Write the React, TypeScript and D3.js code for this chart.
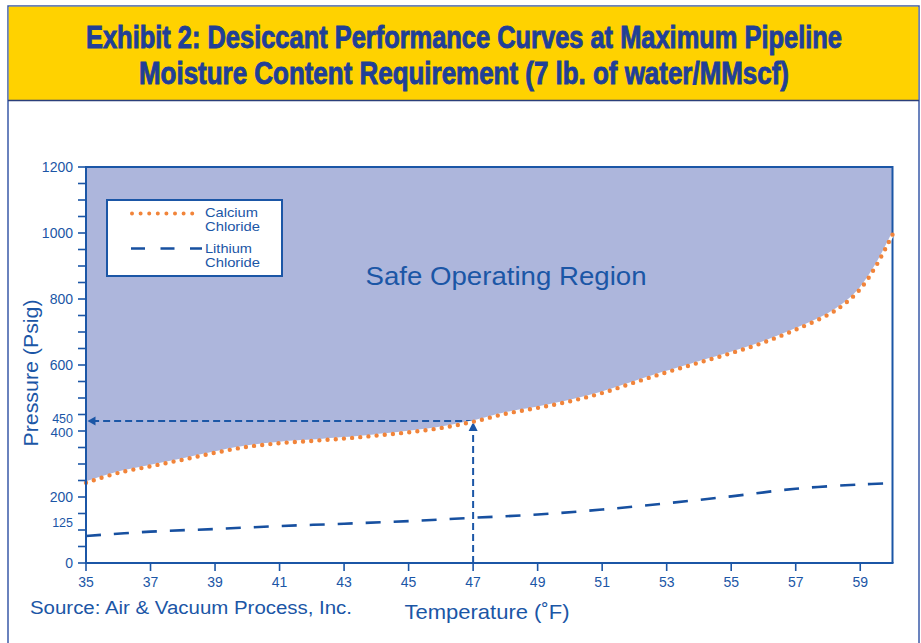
import React from "react";
import * as d3 from "d3";

// ---- data ----
const calciumTemp = [35, 36, 37, 38, 39, 40, 41, 42, 43, 44, 45, 46, 47, 48, 49, 50, 51, 52, 53, 54, 55, 56, 57, 58, 58.5, 59, 59.5, 60];
const calciumPressure = [243, 273, 293, 313, 334, 352, 363, 370, 377, 386, 396, 409, 428, 452, 470, 490, 515, 547, 578, 607, 636, 668, 707, 752, 784, 830, 902, 995];
const lithiumTemp = [35, 37, 39, 41, 43, 45, 47, 49, 51, 53, 55, 57, 59, 60];
const lithiumPressure = [82, 95, 103, 112, 119, 127, 137, 147, 162, 181, 202, 225, 238, 242];
const xTicks = [35, 37, 39, 41, 43, 45, 47, 49, 51, 53, 55, 57, 59];
const yTickLabels = [0, 125, 200, 400, 450, 600, 800, 1000, 1200];
const yMinorTicks = d3.range(0, 1201, 50);
const annotationTemp = 47;
const annotationPressure = 430;

const BLUE = "#1b56a6";
const FONT = "'Liberation Sans', Arial, Helvetica, sans-serif";

export default function App() {
  const x = d3.scaleLinear().domain([35, 60]).range([86, 892.5]);
  const y = d3.scaleLinear().domain([0, 1200]).range([563, 167]);

  const calcium = calciumTemp.map((t, i) => [t, calciumPressure[i]] as [number, number]);
  const lithium = lithiumTemp.map((t, i) => [t, lithiumPressure[i]] as [number, number]);

  const line = d3
    .line<[number, number]>()
    .x((d) => x(d[0]))
    .y((d) => y(d[1]))
    .curve(d3.curveCatmullRom.alpha(0.5));
  const area = d3
    .area<[number, number]>()
    .x((d) => x(d[0]))
    .y0(y(1200))
    .y1((d) => y(d[1]))
    .curve(d3.curveCatmullRom.alpha(0.5));

  const ax = x(annotationTemp);
  const ay = y(annotationPressure);

  return (
    <svg
      width={921}
      height={643}
      style={{ position: "absolute", left: 0, top: 0, background: "#fff" }}
      fontFamily={FONT}
    >
      {/* outer frame */}
      <rect x={8} y={6} width={911} height={660} fill="#fff" stroke="#3a5aa8" strokeWidth={1.5} />
      {/* header */}
      <rect x={8.75} y={6.75} width={909.5} height={93.5} fill="#ffd200" />
      <line x1={8} x2={919} y1={100.5} y2={100.5} stroke="#2b3f7a" strokeWidth={1.5} />
      <g fill="#213f97" stroke="#213f97" strokeWidth={0.9} fontWeight="bold" fontSize={31} textAnchor="middle">
        <text x={464} y={48} textLength={756} lengthAdjust="spacingAndGlyphs">
          Exhibit 2: Desiccant Performance Curves at Maximum Pipeline
        </text>
        <text x={464} y={84} textLength={650} lengthAdjust="spacingAndGlyphs">
          Moisture Content Requirement (7 lb. of water/MMscf)
        </text>
      </g>

      {/* safe region */}
      <path d={area(calcium) || ""} fill="#adb6dc" />

      {/* plot frame */}
      <path
        d={`M${x(35)},${y(1200)}H${x(60)}V${y(0)}`}
        fill="none"
        stroke={BLUE}
        strokeWidth={2}
      />

      {/* lithium chloride */}
      <path d={line(lithium) || ""} fill="none" stroke="#1750a0" strokeWidth={2.6} strokeDasharray="15 13" />

      {/* annotation arrows */}
      <g stroke={BLUE} strokeWidth={2} fill="none">
        <line x1={ax} x2={ax} y1={y(0)} y2={ay + 9} strokeDasharray="7 4" />
        <line x1={ax} x2={x(35) + 8} y1={ay} y2={ay} strokeDasharray="7 4" />
      </g>
      <path d={`M${ax},${ay + 1}L${ax - 4.5},${ay + 10}L${ax + 4.5},${ay + 10}Z`} fill={BLUE} />
      <path d={`M${x(35) + 1.5},${ay}L${x(35) + 9.5},${ay - 4.5}L${x(35) + 9.5},${ay + 4.5}Z`} fill={BLUE} />

      {/* calcium chloride */}
      <path d={line(calcium) || ""} fill="none" stroke="#ffffff" strokeWidth={3} />
      <path
        d={line(calcium) || ""}
        fill="none"
        stroke="#f1843a"
        strokeWidth={4.4}
        strokeLinecap="round"
        strokeDasharray="0 8.2"
      />

      {/* axes */}
      <line x1={x(35)} x2={x(35)} y1={y(1200) - 1} y2={y(0) + 1} stroke={BLUE} strokeWidth={2} />
      <line x1={x(35) - 1} x2={x(60) + 1} y1={y(0)} y2={y(0)} stroke={BLUE} strokeWidth={2} />
      {yMinorTicks.map((v) => (
        <line key={"yt" + v} x1={x(35) - 8} x2={x(35)} y1={y(v)} y2={y(v)} stroke={BLUE} strokeWidth={1.6} />
      ))}
      {xTicks.map((t) => (
        <line key={"xt" + t} x1={x(t)} x2={x(t)} y1={y(0)} y2={y(0) + 8} stroke={BLUE} strokeWidth={1.6} />
      ))}
      <g fill={BLUE} fontSize={14} textAnchor="end">
        {yTickLabels.map((v) => (
          <text
            key={"yl" + v}
            x={73}
            y={y(v) + 5 + (v === 450 ? 3 : v === 400 ? 1 : 0)}
            fontSize={v === 450 || v === 125 ? 12.5 : v === 400 ? 13.5 : 14}
          >
            {v}
          </text>
        ))}
      </g>
      <g fill={BLUE} fontSize={14} textAnchor="middle">
        {xTicks.map((t) => (
          <text key={"xl" + t} x={x(t)} y={587}>
            {t}
          </text>
        ))}
      </g>

      {/* axis titles */}
      <text
        transform="translate(38,373) rotate(-90)"
        textAnchor="middle"
        fill={BLUE}
        fontSize={21}
        textLength={147}
        lengthAdjust="spacingAndGlyphs"
      >
        Pressure (Psig)
      </text>
      <text x={487} y={619} textAnchor="middle" fill={BLUE} fontSize={21} textLength={165} lengthAdjust="spacingAndGlyphs">
        Temperature (˚F)
      </text>
      <text x={30} y={614} fill={BLUE} fontSize={18} textLength={322} lengthAdjust="spacingAndGlyphs">
        Source: Air &amp; Vacuum Process, Inc.
      </text>

      {/* region label */}
      <text x={506} y={285} textAnchor="middle" fill={BLUE} fontSize={26.5} textLength={281} lengthAdjust="spacingAndGlyphs">
        Safe Operating Region
      </text>

      {/* legend */}
      <rect x={107} y={200} width={175} height={76} fill="#fff" stroke={BLUE} strokeWidth={2} />
      <line
        x1={132}
        x2={193}
        y1={213.5}
        y2={213.5}
        stroke="#f1843a"
        strokeWidth={4}
        strokeLinecap="round"
        strokeDasharray="0 8.6"
      />
      <line x1={131} x2={202} y1={248.5} y2={248.5} stroke="#1750a0" strokeWidth={2.4} strokeDasharray="14 15.5" />
      <g fill={BLUE} fontSize={13.5}>
        <text x={205} y={217} textLength={53} lengthAdjust="spacingAndGlyphs">Calcium</text>
        <text x={205} y={231} textLength={55} lengthAdjust="spacingAndGlyphs">Chloride</text>
        <text x={205} y={253} textLength={47} lengthAdjust="spacingAndGlyphs">Lithium</text>
        <text x={205} y={266.5} textLength={55} lengthAdjust="spacingAndGlyphs">Chloride</text>
      </g>
    </svg>
  );
}
